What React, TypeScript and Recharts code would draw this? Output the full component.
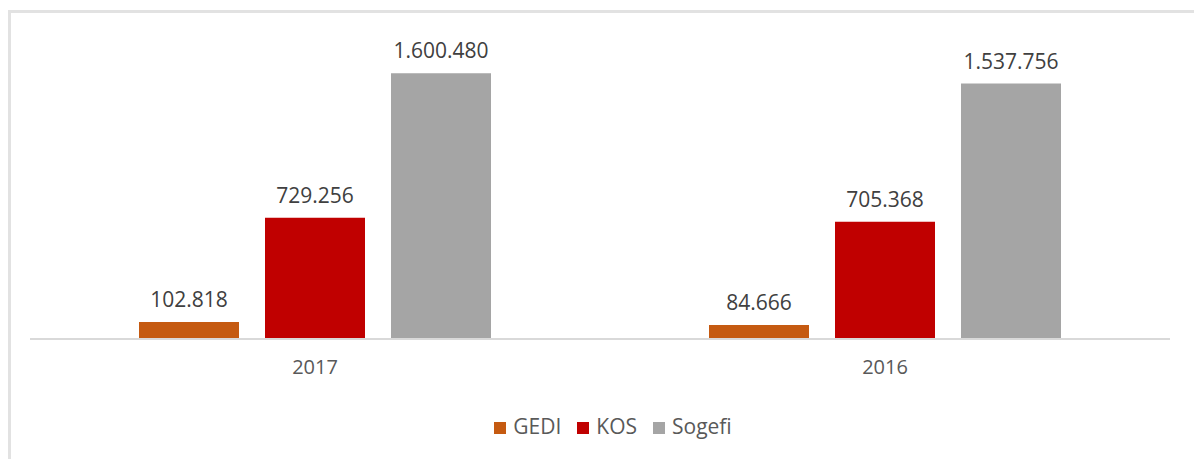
import { BarChart, Bar, XAxis, YAxis, Legend, LabelList } from "recharts";

// Anni (categorie) e valori per società
const ANNI = ["2017", "2016"];
const GEDI = [102818, 84666];
const KOS = [729256, 705368];
const SOGEFI = [1600480, 1537756];

const SERIE = [
  { key: "GEDI", cor: "#C55A11" },
  { key: "KOS", cor: "#C00000" },
  { key: "Sogefi", cor: "#A5A5A5" },
];

const dados = ANNI.map((anno, i) => ({
  anno,
  GEDI: GEDI[i],
  KOS: KOS[i],
  Sogefi: SOGEFI[i],
}));

// separatore delle migliaia all'italiana
function formatta(v: number): string {
  return String(v).replace(/\B(?=(\d{3})+(?!\d))/g, ".");
}

const FONT = "'Open Sans', sans-serif";

export default function App() {
  return (
    <div
      style={{
        position: "absolute",
        left: 0,
        top: 0,
        width: 1194,
        height: 459,
        overflow: "hidden",
        background: "#fff",
        fontFamily: FONT,
      }}
    >
      {/* cornice grigia (solo alto e sinistra visibili) */}
      <div
        style={{
          position: "absolute",
          left: 8,
          top: 10,
          width: 1300,
          height: 600,
          border: "3px solid #e2e2e2",
        }}
      />
      <div style={{ position: "absolute", left: 0, top: 0 }}>
        <BarChart
          width={1194}
          height={459}
          data={dados}
          margin={{ top: 40, right: 24, left: 30, bottom: 19 }}
          barCategoryGap={109}
          barGap={26}
        >
          <XAxis
            dataKey="anno"
            tickLine={false}
            axisLine={{ stroke: "#d9d9d9", strokeWidth: 2 }}
            tick={{ fill: "#595959", fontSize: 20, fontFamily: FONT }}
            tickMargin={15}
            height={73}
          />
          <YAxis hide domain={[0, 1800000]} />
          <Legend
            verticalAlign="bottom"
            iconType="square"
            iconSize={12}
            wrapperStyle={{ fontSize: 21, fontFamily: FONT, color: "#595959", paddingLeft: 21 }}
            formatter={(v: string) => (
              <span style={{ color: "#595959", marginLeft: 3, marginRight: 6 }}>{v}</span>
            )}
          />
          {SERIE.map((s) => (
            <Bar key={s.key} dataKey={s.key} fill={s.cor} isAnimationActive={false}>
              <LabelList
                dataKey={s.key}
                position="top"
                offset={15}
                formatter={(v: number) => formatta(v)}
                style={{ fill: "#404040", fontSize: 21, fontFamily: FONT }}
              />
            </Bar>
          ))}
        </BarChart>
      </div>
    </div>
  );
}
